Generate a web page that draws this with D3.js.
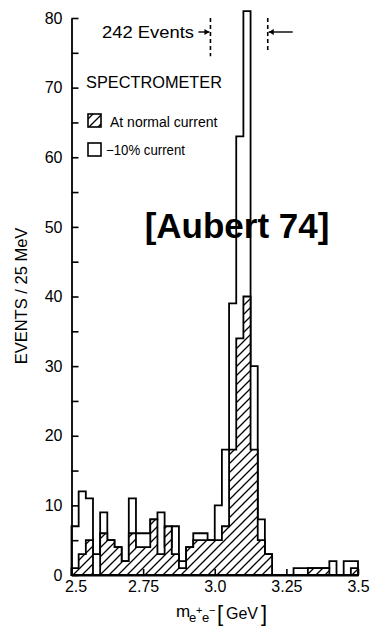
<!DOCTYPE html>
<html>
<head>
<meta charset="utf-8">
<script src="https://cdn.jsdelivr.net/npm/d3@7"></script>
<style>
  html, body { margin: 0; padding: 0; background: #fff; }
  svg { display: block; font-family: "Liberation Sans", Arial, Helvetica, sans-serif; }
</style>
</head>
<body>
<svg id="chart" width="373" height="628"></svg>
<script>
// Lower edges of the 25 MeV mass bins (GeV)
const binLow = [
  2.500, 2.525, 2.550, 2.575, 2.600, 2.625, 2.650, 2.675, 2.700, 2.725,
  2.750, 2.775, 2.800, 2.825, 2.850, 2.875, 2.900, 2.925, 2.950, 2.975,
  3.000, 3.025, 3.050, 3.075, 3.100, 3.125, 3.150, 3.175, 3.200, 3.225,
  3.250, 3.275, 3.300, 3.325, 3.350, 3.375, 3.400, 3.425, 3.450, 3.475
];
const binWidth = 0.025;

// Events per bin, spectrometer at -10% current (open histogram)
const reducedCurrent = [
  7, 12, 11, 3, 9, 5, 4, 2, 11, 6,
  6, 8, 9, 4, 7, 2, 4, 6, 6, 5,
  10, 18, 39, 63, 81, 30, 8, 3, 0, 0,
  0, 1, 1, 1, 1, 1, 2, 0, 2, 2
];

// Events per bin, spectrometer at normal current (hatched histogram)
const normalCurrent = [
  1, 3, 5, 0, 6, 5, 4, 2, 6, 4,
  4, 8, 3, 7, 3, 1, 4, 5, 5, 5,
  5, 7, 18, 34, 40, 18, 5, 3, 0, 0,
  0, 0, 0, 1, 1, 1, 0, 0, 0, 1
];

const yTickValues = [0, 5, 10, 15, 20, 25, 30, 35, 40, 45, 50, 55, 60, 65, 70, 75, 80];
const xTickValues = [2.5, 2.75, 3.0, 3.25, 3.5];
const xTickLabels = ["2.5", "2.75", "3.0", "3.25", "3.5"];

// Mass window containing the 242 events
const windowEdges = [2.985, 3.185];

const svg = d3.select("#chart");
const x = d3.scaleLinear().domain([2.5, 3.5]).range([71.5, 358]);
const y = d3.scaleLinear().domain([0, 80]).range([575, 18]);

// hatch pattern for the normal-current histogram
const defs = svg.append("defs");
const pat = defs.append("pattern")
  .attr("id", "hatch")
  .attr("patternUnits", "userSpaceOnUse")
  .attr("width", 9).attr("height", 9);
pat.append("rect").attr("width", 9).attr("height", 9).attr("fill", "#fff");
pat.append("path")
  .attr("d", "M-2,2 L2,-2 M0,9 L9,0 M7,11 L11,7")
  .attr("stroke", "#000").attr("stroke-width", 1.3);

function stepPoints(vals) {
  const pts = [[binLow[0], 0]];
  vals.forEach((v, i) => {
    pts.push([binLow[i], v]);
    pts.push([binLow[i] + binWidth, v]);
  });
  pts.push([binLow[binLow.length - 1] + binWidth, 0]);
  return pts;
}

const stepLine = d3.line().x(d => x(d[0])).y(d => y(d[1]));

// open histogram (-10% current)
svg.append("path")
  .attr("d", stepLine(stepPoints(reducedCurrent)) + "Z")
  .attr("fill", "#fff")
  .attr("stroke", "#000")
  .attr("stroke-width", 1.8)
  .attr("stroke-linejoin", "miter");

// hatched histogram (normal current)
svg.append("path")
  .attr("d", stepLine(stepPoints(normalCurrent)) + "Z")
  .attr("fill", "url(#hatch)")
  .attr("stroke", "#000")
  .attr("stroke-width", 1.8)
  .attr("stroke-linejoin", "miter");

// y axis: ticks pointing inward, labels every 10
const yAxis = d3.axisLeft(y)
  .tickValues(yTickValues)
  .tickSizeInner(-7)
  .tickSizeOuter(0)
  .tickPadding(9)
  .tickFormat(v => (v % 10 === 0 ? String(v) : ""));
const gy = svg.append("g").attr("transform", `translate(${x(2.5)},0)`).call(yAxis);
gy.select(".domain").attr("stroke-width", 1.8);
gy.selectAll(".tick line").attr("stroke-width", 1.6);
gy.selectAll(".tick text").attr("font-size", 16).attr("font-family", "Liberation Sans, Arial, sans-serif").attr("fill", "#000");

// x axis
const xAxis = d3.axisBottom(x)
  .tickValues(xTickValues)
  .tickSizeInner(-6)
  .tickSizeOuter(0)
  .tickPadding(6)
  .tickFormat((d, i) => xTickLabels[i]);
const gx = svg.append("g").attr("transform", `translate(0,${y(0)})`).call(xAxis);
gx.select(".domain").attr("stroke-width", 1.8);
gx.selectAll(".tick line").attr("stroke-width", 1.6);
gx.selectAll(".tick text").attr("font-size", 16).attr("font-family", "Liberation Sans, Arial, sans-serif").attr("fill", "#000");
gx.selectAll(".tick text").filter((d, i) => i === 0).attr("dx", 4);

// y axis title
svg.append("text")
  .attr("transform", "translate(27,296) rotate(-90)")
  .attr("text-anchor", "middle")
  .attr("font-size", 16.5)
  .text("EVENTS / 25 MeV");

// x axis title: m_{e+e-} [GeV]
const xt = svg.append("g").attr("font-size", 17);
xt.append("text").attr("x", 176).attr("y", 617).text("m");
xt.append("text").attr("x", 189).attr("y", 622).attr("font-size", 13).text("e");
xt.append("text").attr("x", 196).attr("y", 614).attr("font-size", 11).text("+");
xt.append("text").attr("x", 202).attr("y", 622).attr("font-size", 13).text("e");
xt.append("text").attr("x", 209).attr("y", 614).attr("font-size", 11).text("−");
xt.append("text").attr("x", 217).attr("y", 621).attr("font-size", 22).text("[");
xt.append("text").attr("x", 226).attr("y", 619).attr("font-size", 16).text("GeV");
xt.append("text").attr("x", 261).attr("y", 621).attr("font-size", 22).text("]");

// 242 events window markers
const markTop = y(80), markBotL = y(74.5), markBotR = y(75.3);
svg.append("line")
  .attr("x1", x(windowEdges[0])).attr("x2", x(windowEdges[0]))
  .attr("y1", markTop).attr("y2", markBotL)
  .attr("stroke", "#000").attr("stroke-width", 1.6).attr("stroke-dasharray", "4,3");
svg.append("line")
  .attr("x1", x(windowEdges[1])).attr("x2", x(windowEdges[1]))
  .attr("y1", markTop).attr("y2", markBotR)
  .attr("stroke", "#000").attr("stroke-width", 1.6).attr("stroke-dasharray", "4,3");

svg.append("text").attr("x", 102).attr("y", 38).attr("font-size", 16.5)
  .attr("textLength", 92).attr("lengthAdjust", "spacingAndGlyphs").text("242 Events");
// arrow into the left edge
const arrowY = 32;
svg.append("line").attr("x1", x(windowEdges[0]) - 12).attr("x2", x(windowEdges[0]) - 1)
  .attr("y1", arrowY).attr("y2", arrowY).attr("stroke", "#000").attr("stroke-width", 1.4);
svg.append("path")
  .attr("d", `M${x(windowEdges[0]) - 1},${arrowY} l-5,-3 v6 Z`).attr("fill", "#000");
// arrow into the right edge
svg.append("line").attr("x1", x(windowEdges[1]) + 1).attr("x2", x(windowEdges[1]) + 25)
  .attr("y1", arrowY).attr("y2", arrowY).attr("stroke", "#000").attr("stroke-width", 1.4);
svg.append("path")
  .attr("d", `M${x(windowEdges[1]) + 1},${arrowY} l5,-3 v6 Z`).attr("fill", "#000");

// legend
svg.append("text").attr("x", 86).attr("y", 88).attr("font-size", 16)
  .attr("textLength", 136).attr("lengthAdjust", "spacingAndGlyphs").text("SPECTROMETER");
svg.append("rect").attr("x", 88).attr("y", 114).attr("width", 13).attr("height", 13)
  .attr("fill", "url(#hatch)").attr("stroke", "#000").attr("stroke-width", 1.6);
svg.append("text").attr("x", 110).attr("y", 127).attr("font-size", 14).text("At normal current");
svg.append("rect").attr("x", 88).attr("y", 143).attr("width", 13).attr("height", 13)
  .attr("fill", "#fff").attr("stroke", "#000").attr("stroke-width", 1.6);
svg.append("text").attr("x", 106).attr("y", 155).attr("font-size", 14)
  .attr("textLength", 79).attr("lengthAdjust", "spacingAndGlyphs").text("−10% current");

// citation
svg.append("text")
  .attr("x", 237).attr("y", 238)
  .attr("text-anchor", "middle")
  .attr("font-size", 35)
  .attr("font-weight", "bold")
  .text("[Aubert 74]");
</script>
</body>
</html>
